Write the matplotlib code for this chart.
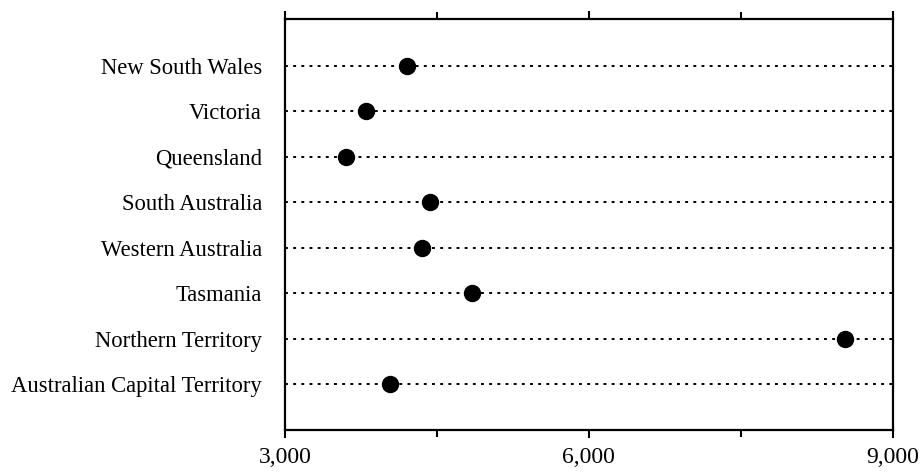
import matplotlib
matplotlib.use("Agg")
import matplotlib.pyplot as plt
from matplotlib.ticker import FuncFormatter, MultipleLocator

categories = ["New South Wales", "Victoria", "Queensland", "South Australia",
              "Western Australia", "Tasmania", "Northern Territory",
              "Australian Capital Territory"]
values = [4200, 3800, 3600, 4430, 4350, 4850, 8530, 4040]
major_ticks = [3000, 6000, 9000]

plt.rcParams['font.family'] = ['Liberation Serif', 'DejaVu Serif']

fig = plt.figure(figsize=(9.22, 4.72), dpi=100)
ax = fig.add_axes([0.309, 0.089, 0.6595, 0.871])

ypos = list(range(len(categories)))
for y in ypos:
    ax.axhline(y, color='black', linestyle=(0, (1.5, 2.7)), linewidth=1.4, zorder=1)
ax.plot(values, ypos, 'o', color='black', markersize=11.5, zorder=3)

ax.set_xlim(3000, 9000)
ax.set_ylim(8.0, -1.03)
ax.set_yticks(ypos)
ax.set_yticklabels(categories, fontsize=16.3)
ax.tick_params(axis='y', length=0, pad=16.5)
ax.set_xticks(major_ticks)
ax.xaxis.set_minor_locator(MultipleLocator(1500))
ax.xaxis.set_major_formatter(FuncFormatter(lambda v, p: f"{int(v):,}"))
ax.tick_params(axis='x', which='both', direction='out', top=True, labelsize=17, width=1.5, pad=6)
ax.tick_params(axis='x', which='major', length=6)
ax.tick_params(axis='x', which='minor', length=5)
for s in ax.spines.values():
    s.set_linewidth(1.6)

fig.savefig("out.png", dpi=100)
